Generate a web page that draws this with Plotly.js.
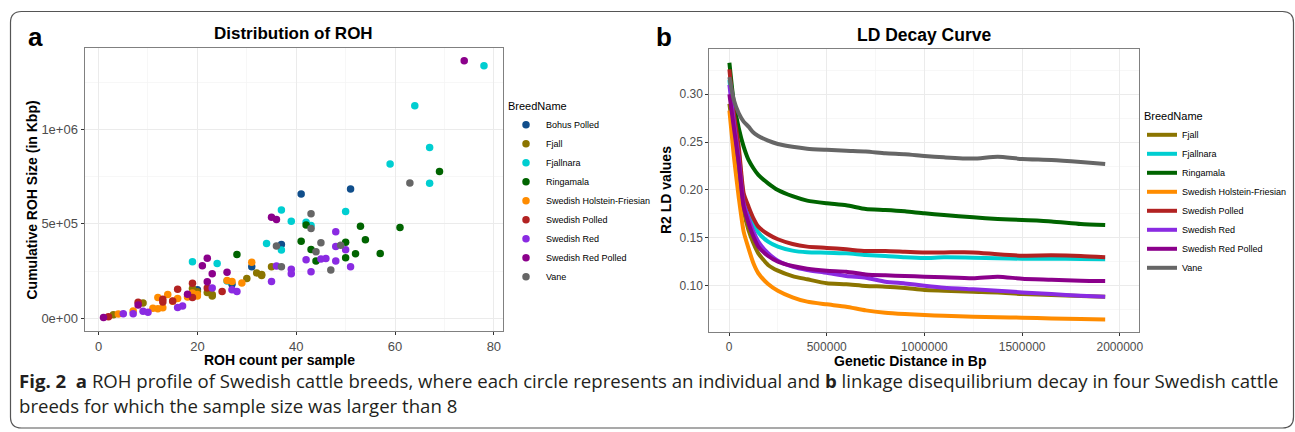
<!DOCTYPE html>
<html>
<head>
<meta charset="utf-8">
<script src="https://cdn.plot.ly/plotly-3.0.1.min.js"></script>
<style>html,body{margin:0;padding:0;background:#fff;}#chart{width:1295px;height:432px;}</style>
</head>
<body>
<div id="chart"></div>
<script>
// ---------- Panel a: ROH (count per sample, cumulative size in Kbp) ----------
const breedNames = ['Bohus Polled','Fjall','Fjallnara','Ringamala','Swedish Holstein-Friesian','Swedish Polled','Swedish Red','Swedish Red Polled','Vane'];

const bohusPolledCount = [20, 27, 31, 37, 41, 51];
const bohusPolledKbp   = [150000, 180000, 273000, 391000, 658000, 685000];

const fjallCount = [3, 9, 19, 20, 22, 23, 23, 30, 32, 33, 33, 35];
const fjallKbp   = [18000, 80000, 157000, 140000, 136000, 118000, 125000, 210000, 240000, 232000, 226000, 273000];

const fjallnaraCount = [19, 24, 26, 34, 37, 37, 39, 42, 43, 50, 59, 64, 67, 67, 78];
const fjallnaraKbp   = [299000, 290000, 197000, 396000, 574000, 361000, 514000, 509000, 491000, 565000, 817000, 1126000, 905000, 715000, 1338000];

const ringamalaCount = [28, 41, 42, 43, 44, 50, 50, 52, 53, 54, 57, 61, 69];
const ringamalaKbp   = [338000, 408000, 494000, 364000, 303000, 403000, 320000, 342000, 487000, 415000, 343000, 481000, 778000];

const holsteinCount = [4, 7, 11, 12, 12, 13, 14, 15, 16, 18, 19, 20, 20, 26, 27, 29, 31];
const holsteinKbp   = [22000, 38000, 53000, 50000, 109000, 55000, 125000, 90000, 104000, 112000, 134000, 117000, 125000, 200000, 195000, 186000, 296000];

const swedishPolledCount = [2, 8, 13, 13, 15, 16, 19, 19, 22, 25];
const swedishPolledKbp   = [7000, 85000, 86000, 100000, 91000, 153000, 185000, 109000, 160000, 141000];

const swedishRedCount = [5, 7, 9, 10, 16, 17, 23, 27, 28, 35, 36, 39, 39, 42, 43, 45, 46, 48, 48, 48, 50, 51];
const swedishRedKbp   = [24000, 24000, 37000, 31000, 56000, 65000, 160000, 151000, 141000, 194000, 276000, 259000, 236000, 310000, 246000, 313000, 316000, 380000, 303000, 458000, 363000, 273000];

const redPolledCount = [1, 8, 18, 21, 22, 22, 23, 26, 35, 36, 74];
const redPolledKbp   = [3000, 70000, 127000, 278000, 317000, 193000, 236000, 243000, 535000, 523000, 1364000];

const vaneCount = [36, 37, 43, 43, 44, 45, 47, 49, 63];
const vaneKbp   = [382000, 273000, 553000, 475000, 352000, 400000, 255000, 387000, 716000];

const rohYTickVals = [0, 500000, 1000000];
const rohYTickText = ['0e+00', '5e+05', '1e+06'];

// ---------- Panel b: LD decay ----------
const ldBreedNames = ['Fjall','Fjallnara','Ringamala','Swedish Holstein-Friesian','Swedish Polled','Swedish Red','Swedish Red Polled','Vane'];
const ldDistance = [2000, 25000, 50000, 75000, 100000, 125000, 150000, 200000, 250000, 325000, 400000, 500000, 600000, 700000, 800000, 900000, 1000000, 1100000, 1250000, 1375000, 1500000, 1650000, 1800000, 1925000];

const ldFjall         = [0.290,0.255,0.215,0.179,0.158,0.1443,0.1338,0.1217,0.1157,0.110,0.1067,0.1025,0.1015,0.0997,0.099,0.0976,0.0955,0.0948,0.0937,0.093,0.0913,0.0902,0.0892,0.0885];
const ldFjallnara     = [0.315,0.275,0.240,0.193,0.1791,0.1652,0.1555,0.146,0.1408,0.1366,0.1349,0.1345,0.1338,0.1321,0.131,0.1296,0.1289,0.1296,0.1293,0.1286,0.1282,0.1282,0.1279,0.1275];
const ldRingamala     = [0.333,0.291,0.2645,0.2453,0.2314,0.2227,0.2157,0.207,0.200,0.1935,0.1889,0.1861,0.184,0.1801,0.1791,0.1777,0.1756,0.1739,0.1714,0.1697,0.1686,0.1672,0.1645,0.1634];
const ldHolstein      = [0.283,0.235,0.192,0.1565,0.139,0.1234,0.113,0.1018,0.0948,0.0879,0.0833,0.0805,0.078,0.0742,0.0718,0.0704,0.0693,0.0685,0.0676,0.0669,0.0666,0.0658,0.0652,0.0648];
const ldSwedishPolled = [0.326,0.280,0.245,0.1966,0.1826,0.1704,0.1617,0.1537,0.1485,0.1436,0.1408,0.1395,0.138,0.1362,0.1362,0.1355,0.1348,0.1348,0.1348,0.1328,0.1314,0.1317,0.131,0.1296];
const ldSwedishRed    = [0.310,0.270,0.232,0.186,0.1704,0.1565,0.146,0.1339,0.1262,0.1199,0.1164,0.1135,0.1101,0.1084,0.1042,0.1024,0.100,0.0979,0.0962,0.0948,0.093,0.0913,0.0895,0.0885];
const ldRedPolled     = [0.300,0.265,0.228,0.1826,0.1652,0.1513,0.1408,0.131,0.1252,0.1206,0.1178,0.1157,0.1146,0.1118,0.1108,0.1101,0.1094,0.1087,0.1077,0.1094,0.1073,0.1063,0.1052,0.1049];
const ldVane          = [0.318,0.294,0.280,0.2714,0.2662,0.260,0.2565,0.2516,0.2481,0.2452,0.2432,0.242,0.241,0.2403,0.2383,0.2373,0.2355,0.2341,0.2328,0.2348,0.2324,0.2314,0.2293,0.2272];

// ---------- styling ----------
const breedColors = {
  'Bohus Polled': '#104E8B',
  'Fjall': '#8B7500',
  'Fjallnara': '#00CED1',
  'Ringamala': '#006400',
  'Swedish Holstein-Friesian': '#FF8C00',
  'Swedish Polled': '#B22222',
  'Swedish Red': '#8A2BE2',
  'Swedish Red Polled': '#8B008B',
  'Vane': '#666666'
};
const W = 1295, H = 432;
const fx = p => p / W;
const fy = p => 1 - p / H;
const FONT = 'Liberation Sans, Arial, Helvetica, sans-serif';
const CAPTION_FONT = 'Open Sans, Noto Sans, sans-serif';

const rohX = [bohusPolledCount, fjallCount, fjallnaraCount, ringamalaCount, holsteinCount, swedishPolledCount, swedishRedCount, redPolledCount, vaneCount];
const rohY = [bohusPolledKbp, fjallKbp, fjallnaraKbp, ringamalaKbp, holsteinKbp, swedishPolledKbp, swedishRedKbp, redPolledKbp, vaneKbp];
const ldY = [ldFjall, ldFjallnara, ldRingamala, ldHolstein, ldSwedishPolled, ldSwedishRed, ldRedPolled, ldVane];

const traces = [];
breedNames.forEach((name, i) => {
  traces.push({
    type: 'scatter', mode: 'markers', name: name,
    x: rohX[i], y: rohY[i], xaxis: 'x', yaxis: 'y', legend: 'legend',
    marker: { color: breedColors[name], size: 7.5 },
    hoverinfo: 'skip'
  });
});
ldBreedNames.forEach((name, i) => {
  traces.push({
    type: 'scatter', mode: 'lines', name: name,
    x: ldDistance, y: ldY[i], xaxis: 'x2', yaxis: 'y2', legend: 'legend2',
    line: { color: breedColors[name], width: 4, shape: 'spline', smoothing: 0.6 },
    hoverinfo: 'skip'
  });
});

const axisCommon = {
  showgrid: true, gridcolor: '#EBEBEB', gridwidth: 1,
  zeroline: false, showline: true, mirror: true, linecolor: '#808080', linewidth: 1,
  ticks: 'outside', ticklen: 3, tickwidth: 1, tickcolor: '#333333',
  tickfont: { family: FONT, size: 12, color: '#4D4D4D' },
  automargin: false, fixedrange: true
};
const minorGrid = (d) => ({ dtick: d, tick0: 0, showgrid: true, gridcolor: '#F3F3F3', gridwidth: 0.7 });

const titleFont = (s) => ({ family: FONT, size: s, color: '#000000', weight: 'bold' });

const layout = {
  width: W, height: H,
  margin: { l: 0, r: 0, t: 0, b: 0, pad: 0 },
  paper_bgcolor: '#FFFFFF', plot_bgcolor: '#FFFFFF',
  showlegend: true,
  xaxis: Object.assign({}, axisCommon, {
    domain: [fx(84.5), fx(503)], anchor: 'y',
    range: [-2.85, 81.85], tickmode: 'linear', tick0: 0, dtick: 20,
    tickfont: { family: FONT, size: 13, color: '#4D4D4D' },
    minor: minorGrid(10)
  }),
  yaxis: Object.assign({}, axisCommon, {
    domain: [1 - 331 / H, 1 - 48 / H], anchor: 'x',
    range: [-68000, 1432000], tickmode: 'array', tickvals: rohYTickVals, ticktext: rohYTickText,
    tickfont: { family: FONT, size: 13, color: '#4D4D4D' },
    minor: minorGrid(250000)
  }),
  xaxis2: Object.assign({}, axisCommon, {
    domain: [fx(709.3), fx(1139.3)], anchor: 'y2',
    range: [-100800, 2099600], tickmode: 'linear', tick0: 0, dtick: 500000, tickformat: 'd',
    minor: minorGrid(250000)
  }),
  yaxis2: Object.assign({}, axisCommon, {
    domain: [1 - 332.3 / H, 1 - 49.3 / H], anchor: 'x2',
    range: [0.0513, 0.347], tickmode: 'linear', tick0: 0, dtick: 0.05, tickformat: '.2f',
    minor: minorGrid(0.025)
  }),
  legend: {
    x: fx(506), y: fy(96), xanchor: 'left', yanchor: 'top',
    bgcolor: 'rgba(0,0,0,0)', borderwidth: 0,
    title: { text: 'BreedName', font: { family: FONT, size: 11, color: '#000' } },
    font: { family: FONT, size: 9, color: '#000' },
    itemwidth: 30, tracegroupgap: 0
  },
  legend2: {
    x: fx(1142), y: fy(106), xanchor: 'left', yanchor: 'top',
    bgcolor: 'rgba(0,0,0,0)', borderwidth: 0,
    title: { text: 'BreedName', font: { family: FONT, size: 11, color: '#000' } },
    font: { family: FONT, size: 9, color: '#000' },
    itemwidth: 30, tracegroupgap: 0
  },
  shapes: [],
  annotations: []
};

// rounded frame around the figure
(function () {
  const L = 10.5, T = 11.5, R = 1293.5, B = 428, r = 11;
  const X = v => fx(v), Y = v => fy(v);
  const path = 'M ' + X(L + r) + ',' + Y(T) +
    ' L ' + X(R - r) + ',' + Y(T) +
    ' Q ' + X(R) + ',' + Y(T) + ' ' + X(R) + ',' + Y(T + r) +
    ' L ' + X(R) + ',' + Y(B - r) +
    ' Q ' + X(R) + ',' + Y(B) + ' ' + X(R - r) + ',' + Y(B) +
    ' L ' + X(L + r) + ',' + Y(B) +
    ' Q ' + X(L) + ',' + Y(B) + ' ' + X(L) + ',' + Y(B - r) +
    ' L ' + X(L) + ',' + Y(T + r) +
    ' Q ' + X(L) + ',' + Y(T) + ' ' + X(L + r) + ',' + Y(T) + ' Z';
  layout.shapes.push({ type: 'path', xref: 'paper', yref: 'paper', path: path, line: { color: '#555555', width: 1.2 }, fillcolor: 'rgba(0,0,0,0)', layer: 'below' });
})();

function ann(text, x, y, opts) {
  return Object.assign({
    text: text, xref: 'paper', yref: 'paper', x: fx(x), y: fy(y),
    xanchor: 'center', yanchor: 'middle', showarrow: false
  }, opts || {});
}
layout.annotations.push(
  ann('a', 26, 37, { xanchor: 'left', font: titleFont(26) }),
  ann('b', 654, 37, { xanchor: 'left', font: titleFont(26) }),
  ann('Distribution of ROH', 293.7, 33.5, { font: titleFont(17) }),
  ann('LD Decay Curve', 924.2, 35, { font: titleFont(17.5) }),
  ann('ROH count per sample', 279, 359.5, { font: titleFont(14) }),
  ann('Cumulative ROH Size (in Kbp)', 31.5, 200, { font: titleFont(14), textangle: -90 }),
  ann('Genetic Distance in Bp', 909.5, 360.5, { font: titleFont(14) }),
  ann('R2 LD values', 666, 190, { font: titleFont(14), textangle: -90 }),
  ann('<b>Fig. 2</b>  <b>a</b> ROH profile of Swedish cattle breeds, where each circle represents an individual and <b>b</b> linkage disequilibrium decay in four Swedish cattle', 17, 380, { xanchor: 'left', font: { family: CAPTION_FONT, size: 18.6, color: '#231F20' } }),
  ann('breeds for which the sample size was larger than 8', 17, 405, { xanchor: 'left', font: { family: CAPTION_FONT, size: 18.6, color: '#231F20' } })
);

Plotly.newPlot('chart', traces, layout, { displayModeBar: false, staticPlot: true });
</script>
</body>
</html>
